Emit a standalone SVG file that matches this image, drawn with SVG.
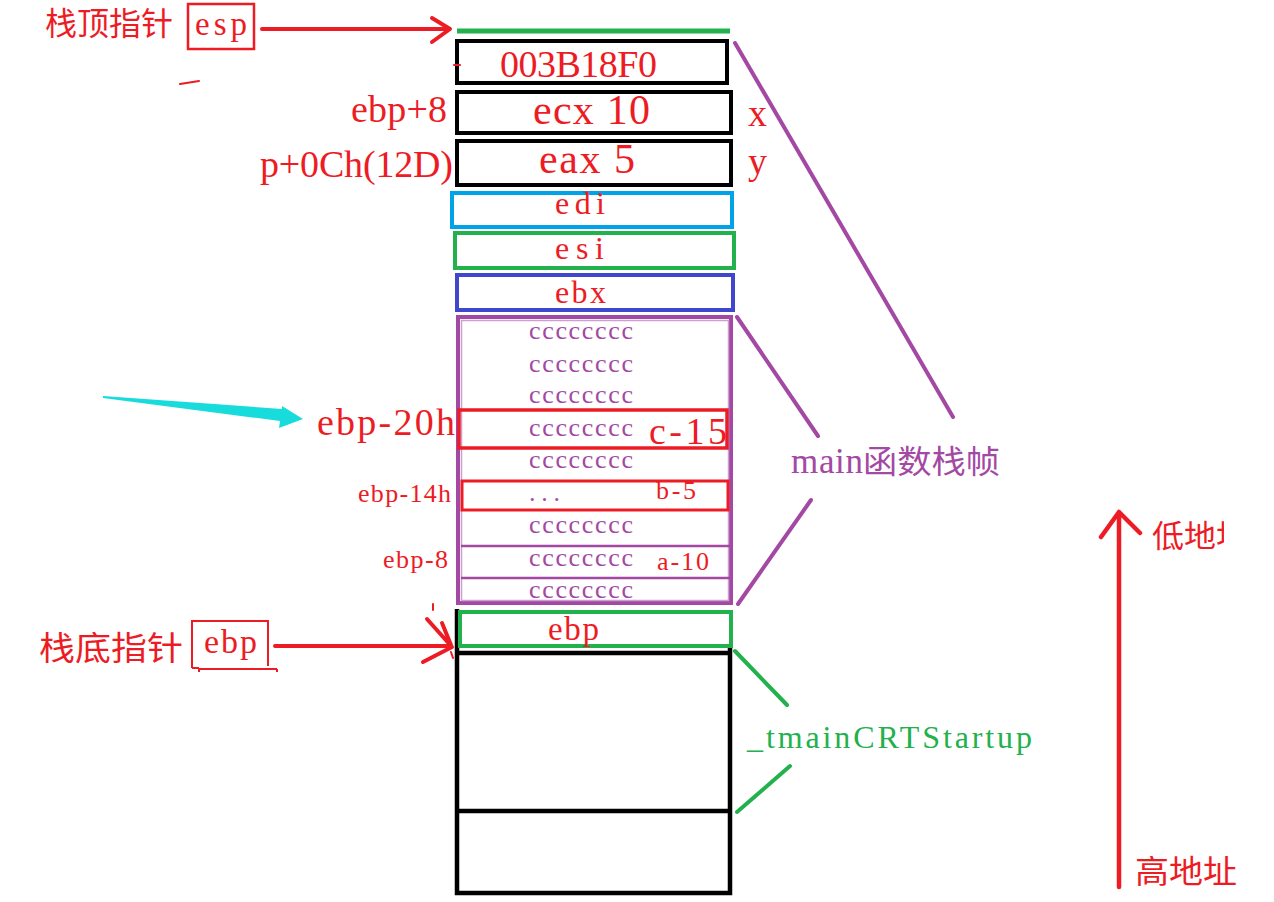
<svg xmlns="http://www.w3.org/2000/svg" width="1274" height="902" viewBox="0 0 1274 902">
<style>
.r{fill:#ed1c24}
.p{fill:#a349a4}
.g{fill:#22b14c}
.m{font-family:"Liberation Serif","Noto Sans CJK SC",serif}
.cj{font-family:"Noto Sans CJK SC",sans-serif}
.box{fill:none;stroke-width:4}
.k{stroke:#000}
.sr{stroke:#ed1c24}
.sp{stroke:#a349a4}
.sg{stroke:#22b14c}
.ln{fill:none;stroke-linecap:round;stroke-linejoin:round}
.cc{font-size:26px}
.big{font-size:38px}
.sm{font-size:26px}
</style>
<defs>
<clipPath id="edge"><rect x="0" y="0" width="1224" height="902"/></clipPath>
</defs>
<rect width="1274" height="902" fill="#fff"/>

<g id="esp-label">
<text class="r cj" x="45" y="35" font-size="32" textLength="128" lengthAdjust="spacingAndGlyphs">栈顶指针</text>
<rect x="188" y="4" width="66" height="45" fill="none" stroke="#ed1c24" stroke-width="2.5"/>
<text class="r m" x="195" y="35" font-size="33" textLength="52" lengthAdjust="spacing">esp</text>
</g>

<g id="ebp-label">
<text class="r cj" x="39" y="660" font-size="33" textLength="144" lengthAdjust="spacingAndGlyphs">栈底指针</text>
<path d="M192,668 V621 H268 V666 M192,668 H199 M199,669 H277 M199,669 V672 M277,669 V672" fill="none" stroke="#ed1c24" stroke-width="2"/>
<text class="r m" x="204" y="653" font-size="34" textLength="53" lengthAdjust="spacing">ebp</text>
</g>

<g id="stack-top">
<line x1="457" y1="31" x2="730" y2="31" stroke="#22b14c" stroke-width="5"/>
</g>

<g id="slot-ret">
<rect class="box k" x="457" y="41" width="270" height="42"/>
<text class="r m big" x="500" y="77" textLength="157" lengthAdjust="spacing">003B18F0</text>
</g>

<g id="slot-ecx">
<rect class="box k" x="457" y="92" width="274" height="41"/>
<text class="r m" x="533" y="124" font-size="42" textLength="117" lengthAdjust="spacing">ecx 10</text>
<text class="r m big" x="351" y="122" textLength="96" lengthAdjust="spacing">ebp+8</text>
<text class="r m big" x="748" y="126">x</text>
</g>

<g id="slot-eax">
<rect class="box k" x="457" y="141" width="274" height="44"/>
<text class="r m" x="539" y="173" font-size="42" textLength="96" lengthAdjust="spacing">eax 5</text>
<text class="r m big" x="260" y="177" textLength="193" lengthAdjust="spacing">p+0Ch(12D)</text>
<text class="r m big" x="748" y="174">y</text>
</g>

<g id="slot-edi">
<rect class="box" stroke="#00a2e8" x="452" y="193" width="280" height="34"/>
<text class="r m" x="555" y="214" font-size="32" textLength="50" lengthAdjust="spacing">edi</text>
</g>

<g id="slot-esi">
<rect class="box sg" x="455" y="233" width="279" height="35"/>
<text class="r m" x="555" y="259" font-size="32" textLength="49" lengthAdjust="spacing">esi</text>
</g>

<g id="slot-ebx">
<rect class="box" stroke="#3f48cc" x="457" y="275" width="276" height="35"/>
<text class="r m" x="555" y="303" font-size="32" textLength="51" lengthAdjust="spacing">ebx</text>
</g>

<g id="main-frame">
<rect class="box sp" x="458" y="317" width="273" height="286" stroke-width="5"/>
<rect x="461.5" y="320.5" width="267" height="280" fill="none" stroke="#c9a0cf" stroke-width="1.5"/>
<line x1="461" y1="546" x2="730" y2="546" stroke="#a349a4" stroke-width="2.5"/>
<line x1="461" y1="578" x2="730" y2="578" stroke="#a349a4" stroke-width="2.5"/>
<text class="p m cc" x="529" y="339" textLength="104" lengthAdjust="spacing">cccccccc</text>
<text class="p m cc" x="529" y="372" textLength="104" lengthAdjust="spacing">cccccccc</text>
<text class="p m cc" x="529" y="403" textLength="104" lengthAdjust="spacing">cccccccc</text>
<text class="p m cc" x="529" y="468" textLength="104" lengthAdjust="spacing">cccccccc</text>
<text class="p m cc" x="529" y="533" textLength="104" lengthAdjust="spacing">cccccccc</text>
<text class="p m cc" x="529" y="598" textLength="104" lengthAdjust="spacing">cccccccc</text>
</g>

<g id="var-c">
<rect x="459" y="410" width="268" height="38" fill="none" stroke="#ed1c24" stroke-width="3.5"/>
<text class="p m cc" x="529" y="436" textLength="104" lengthAdjust="spacing">cccccccc</text>
<text class="r m big" x="649" y="444" textLength="78" lengthAdjust="spacing">c-15</text>
<text class="r m big" x="317" y="435" textLength="138" lengthAdjust="spacing">ebp-20h</text>
</g>

<g id="var-b">
<rect x="462" y="481" width="266" height="29" fill="none" stroke="#ed1c24" stroke-width="3"/>
<text class="p m cc" x="529" y="501" textLength="31" lengthAdjust="spacing">...</text>
<text class="r m sm" x="656" y="499" textLength="40" lengthAdjust="spacing">b-5</text>
<text class="r m sm" x="358" y="502" textLength="93" lengthAdjust="spacing">ebp-14h</text>
</g>

<g id="var-a">
<text class="p m cc" x="529" y="566" textLength="104" lengthAdjust="spacing">cccccccc</text>
<text class="r m sm" x="657" y="570" textLength="52" lengthAdjust="spacing">a-10</text>
<text class="r m sm" x="383" y="568" textLength="65" lengthAdjust="spacing">ebp-8</text>
</g>

<g id="caller-frame">
<path d="M457,609 V893 H730 V647 M457,653 H730 M457,811 H730" fill="none" stroke="#000" stroke-width="4.5"/>
<rect class="box sg" x="460" y="612" width="271" height="34"/>
<text class="r m" x="548" y="640" font-size="33" textLength="51" lengthAdjust="spacing">ebp</text>
</g>

<g id="label-main">
<text class="p" x="791" y="473" font-size="32"><tspan class="m" font-size="35" textLength="72" lengthAdjust="spacing">main</tspan><tspan class="cj" x="863" textLength="137" lengthAdjust="spacingAndGlyphs">函数栈帧</tspan></text>
</g>

<g id="label-crt">
<text class="g m" x="747" y="748" font-size="32" textLength="285" lengthAdjust="spacing">_tmainCRTStartup</text>
</g>

<g id="label-low">
<text class="r cj" x="1152" y="547" font-size="31" textLength="96" lengthAdjust="spacingAndGlyphs" clip-path="url(#edge)">低地址</text>
</g>

<g id="label-high">
<text class="r cj" x="1135" y="883" font-size="32" textLength="102" lengthAdjust="spacingAndGlyphs">高地址</text>
</g>

<g id="connectors">
<path class="ln sr" stroke-width="4" d="M262,29 H449 M432,18 L450,29 L432,42"/>
<path class="ln sr" stroke-width="4" d="M275,646 H450 M427,619 L452,647 L423,662 M442,623 L451,645"/>
<path class="ln sr" stroke-width="4.5" d="M1119,887 V512 M1101,537 L1119,512 L1140,533"/>
<polygon fill="#18dcdc" points="103,396 282,409 282,406 303,419 279,428 280,421 103,398"/>
<path class="ln sp" stroke-width="4" d="M735,43 L953,417 M737,317 L818,436 M811,500 L738,604"/>
<path class="ln sg" stroke-width="4" d="M735,651 L787,705 M790,766 L737,812"/>
<path class="ln sr" stroke-width="2" d="M180,84 L199,81 M454,65 H460 M433,604 V610 M451,652 L453,658"/>
</g>
</svg>
